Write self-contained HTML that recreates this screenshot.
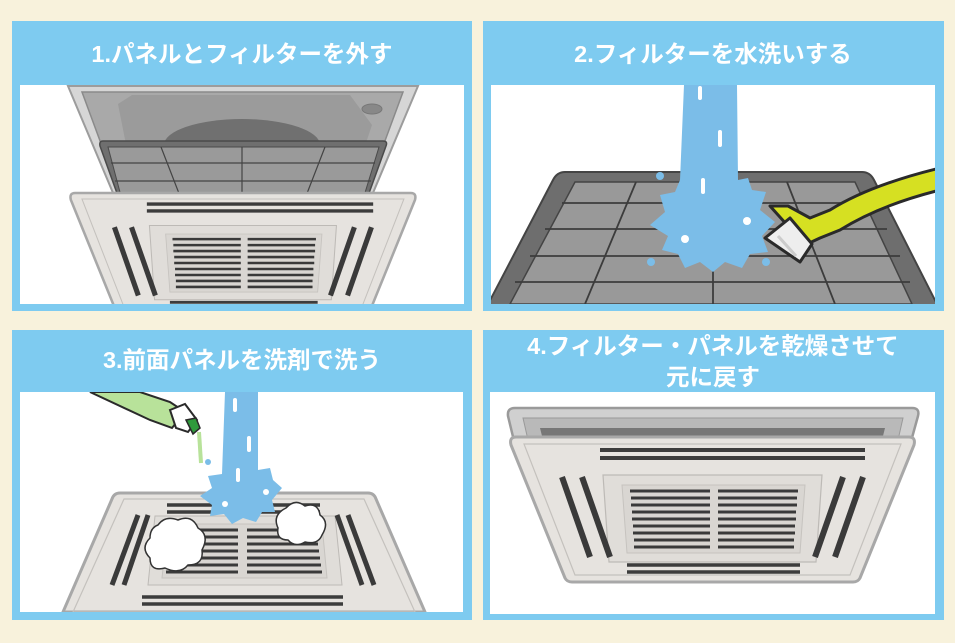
<!DOCTYPE html>
<html><head><meta charset="utf-8"><style>
html,body{margin:0;padding:0;background:#f8f2dc;}
svg{display:block}
text{font-family:"Liberation Sans","Noto Sans CJK JP",sans-serif;font-weight:bold;fill:#fff;text-anchor:middle}
</style></head><body>
<svg width="955" height="643" viewBox="0 0 955 643" xmlns="http://www.w3.org/2000/svg">
<defs>
<clipPath id="c1"><rect x="20" y="85" width="444" height="219"/></clipPath>
<clipPath id="c2"><rect x="491" y="85" width="444" height="219"/></clipPath>
<clipPath id="c3"><rect x="20" y="392" width="443" height="220"/></clipPath>
<clipPath id="c4"><rect x="490" y="392" width="445" height="222"/></clipPath>
<g id="front">
  <path d="M6,0 H399 Q406,0 404,8 L350,141 Q348,145 343,145 H62 Q57,145 55,141 L1,8 Q-1,0 6,0Z" fill="#e6e3df" stroke="#a8a8a8" stroke-width="3"/>
  <path d="M14,7 H391 L340,138 H65Z" fill="none" stroke="#c4c1bd" stroke-width="1.2"/>
  <line x1="90" y1="13" x2="355" y2="13" stroke="#3c3c3c" stroke-width="4"/>
  <line x1="90" y1="21" x2="355" y2="21" stroke="#3c3c3c" stroke-width="4"/>
  <path d="M93,38 H312 L306,125 H99Z" fill="#e0ddd9" stroke="#bdbab6" stroke-width="1.2"/>
  <path d="M112,48 H295 L290,116 H117Z" fill="#d9d6d2" stroke="#c6c3bf"/>
  <g stroke="#3a3a3a" stroke-width="3">
   <line x1="120" y1="54" x2="200" y2="54"/><line x1="208" y1="54" x2="288" y2="54"/>
   <line x1="121" y1="61" x2="200" y2="61"/><line x1="208" y1="61" x2="287" y2="61"/>
   <line x1="121" y1="68" x2="200" y2="68"/><line x1="208" y1="68" x2="287" y2="68"/>
   <line x1="122" y1="75" x2="200" y2="75"/><line x1="208" y1="75" x2="286" y2="75"/>
   <line x1="122" y1="82" x2="200" y2="82"/><line x1="208" y1="82" x2="286" y2="82"/>
   <line x1="123" y1="89" x2="200" y2="89"/><line x1="208" y1="89" x2="285" y2="89"/>
   <line x1="123" y1="96" x2="200" y2="96"/><line x1="208" y1="96" x2="285" y2="96"/>
   <line x1="124" y1="103" x2="200" y2="103"/><line x1="208" y1="103" x2="284" y2="103"/>
   <line x1="124" y1="110" x2="200" y2="110"/><line x1="208" y1="110" x2="284" y2="110"/>
  </g>
  <g stroke="#3a3a3a" stroke-width="6">
   <line x1="52" y1="40" x2="80" y2="120"/><line x1="72" y1="40" x2="100" y2="120"/>
   <line x1="353" y1="40" x2="325" y2="120"/><line x1="333" y1="40" x2="305" y2="120"/>
  </g>
  <line x1="117" y1="128" x2="290" y2="128" stroke="#3c3c3c" stroke-width="3.5"/>
  <line x1="117" y1="135" x2="290" y2="135" stroke="#3c3c3c" stroke-width="3.5"/>
</g>
</defs>

<rect x="12" y="21" width="460" height="290" fill="#7ecbf0"/>
<rect x="483" y="21" width="461" height="290" fill="#7ecbf0"/>
<rect x="12" y="330" width="460" height="290" fill="#7ecbf0"/>
<rect x="483" y="330" width="461" height="290" fill="#7ecbf0"/>
<rect x="20" y="85" width="444" height="219" fill="#fff"/>
<rect x="491" y="85" width="444" height="219" fill="#fff"/>
<rect x="20" y="392" width="443" height="220" fill="#fff"/>
<rect x="490" y="392" width="445" height="222" fill="#fff"/>

<text x="242" y="62" font-size="23.5">1.パネルとフィルターを外す</text>
<text x="713" y="62" font-size="23.5">2.フィルターを水洗いする</text>
<text x="242" y="368" font-size="23.5">3.前面パネルを洗剤で洗う</text>
<text x="713" y="354" font-size="23.5">4.フィルター・パネルを乾燥させて</text>
<text x="713" y="385" font-size="23.5">元に戻す</text>

<g clip-path="url(#c1)">
  <path d="M68,86 H418 L370,200 H116Z" fill="#d6d6d6" stroke="#9c9c9c" stroke-width="2"/>
  <path d="M82,92 H403 L365,195 H120Z" fill="#a9a9a9" stroke="#8a8a8a" stroke-width="1.5"/>
  <path d="M118,104 L132,95 H350 L372,125 L350,190 H135Z" fill="#9b9b9b"/>
  <ellipse cx="242" cy="145" rx="78" ry="26" fill="#707070"/>
  <ellipse cx="372" cy="109" rx="10" ry="5" fill="#888" stroke="#777"/>
  <path d="M103,141 H383 Q388,141 386,146 L368,196 H118 L100,146 Q99,141 103,141Z" fill="#6f6f6f" stroke="#4a4a4a" stroke-width="1.5"/>
  <path d="M108,147 H379 L364,196 H121Z" fill="#9a9a9a" stroke="#4a4a4a"/>
  <g stroke="#444" stroke-width="1.2">
   <line x1="111" y1="163" x2="375" y2="163"/><line x1="115" y1="181" x2="371" y2="181"/>
   <line x1="161" y1="147" x2="180" y2="196"/><line x1="242" y1="147" x2="242" y2="196"/><line x1="325" y1="147" x2="306" y2="196"/>
  </g>
  <use href="#front" transform="translate(70,193) scale(0.854)"/>
</g>

<g clip-path="url(#c2)">
  <path d="M565,172 H862 Q870,172 874,180 L940,310 H485 L553,180 Q557,172 565,172Z" fill="#6e6e6e" stroke="#444" stroke-width="2"/>
  <path d="M575,182 H855 L912,304 H510Z" fill="#999" stroke="#444" stroke-width="1.5"/>
  <g stroke="#3c3c3c" stroke-width="1.8">
   <line x1="562" y1="203" x2="873" y2="203"/><line x1="545" y1="229" x2="887" y2="229"/>
   <line x1="530" y1="256" x2="900" y2="256"/><line x1="515" y1="282" x2="910" y2="282"/>
   <line x1="636" y1="182" x2="585" y2="304"/><line x1="713" y1="182" x2="713" y2="304"/><line x1="787" y1="182" x2="835" y2="304"/>
  </g>
  <path d="M684,85 H737 L738,180 L748,178 L752,190 L766,192 L760,210 L775,222 L762,236 L768,252 L750,254 L742,268 L725,262 L713,272 L700,262 L685,268 L678,254 L662,250 L668,236 L650,225 L665,212 L660,195 L675,192 L680,180Z" fill="#7bbde8"/>
  <g fill="#7bbde8"><circle cx="660" cy="176" r="4"/><circle cx="651" cy="262" r="4"/><circle cx="766" cy="262" r="4"/></g>
  <g fill="#fff"><rect x="698" y="86" width="4" height="14" rx="2"/><rect x="718" y="130" width="4" height="17" rx="2"/><rect x="701" y="178" width="4" height="16" rx="2"/><circle cx="747" cy="221" r="4"/><circle cx="685" cy="239" r="4"/></g>
  <path d="M770,206 L788,206 L810,218 L830,210 Q870,185 940,168 L940,190 Q880,205 840,230 L820,238 L805,245Z" fill="#d6e022" stroke="#2a2a2a" stroke-width="3" stroke-linejoin="round"/>
  <path d="M765,238 L790,218 L812,244 L800,262Z" fill="#eee" stroke="#2a2a2a" stroke-width="3" stroke-linejoin="round"/>
  <line x1="778" y1="236" x2="796" y2="256" stroke="#ccc" stroke-width="3"/>
</g>

<g clip-path="url(#c3)">
  <path d="M120,493 H368 Q374,493 376,499 L425,612 H63 L112,499 Q114,493 120,493Z" fill="#e6e3df" stroke="#a8a8a8" stroke-width="3"/>
  <path d="M124,499 H364 L415,612 H73Z" fill="none" stroke="#c4c1bd" stroke-width="1.2"/>
  <g stroke="#3c3c3c" stroke-width="3.5">
   <line x1="167" y1="505" x2="320" y2="505"/><line x1="167" y1="512" x2="320" y2="512"/>
   <line x1="142" y1="597" x2="343" y2="597"/><line x1="142" y1="604" x2="343" y2="604"/>
  </g>
  <path d="M155,516 H335 L342,585 H148Z" fill="#e0ddd9" stroke="#bdbab6"/>
  <path d="M168,524 H322 L327,578 H162Z" fill="#d9d6d2" stroke="#c6c3bf"/>
  <g stroke="#3a3a3a" stroke-width="3">
   <line x1="172" y1="530" x2="238" y2="530"/><line x1="247" y1="530" x2="316" y2="530"/>
   <line x1="171" y1="537" x2="238" y2="537"/><line x1="247" y1="537" x2="317" y2="537"/>
   <line x1="170" y1="544" x2="238" y2="544"/><line x1="247" y1="544" x2="318" y2="544"/>
   <line x1="169" y1="551" x2="238" y2="551"/><line x1="247" y1="551" x2="319" y2="551"/>
   <line x1="168" y1="558" x2="238" y2="558"/><line x1="247" y1="558" x2="320" y2="558"/>
   <line x1="167" y1="565" x2="238" y2="565"/><line x1="247" y1="565" x2="321" y2="565"/>
   <line x1="166" y1="572" x2="238" y2="572"/><line x1="247" y1="572" x2="322" y2="572"/>
  </g>
  <g stroke="#3a3a3a" stroke-width="5">
   <line x1="138" y1="515" x2="112" y2="585"/><line x1="148" y1="515" x2="124" y2="585"/>
   <line x1="337" y1="515" x2="362" y2="585"/><line x1="348" y1="515" x2="374" y2="585"/>
  </g>
  <path d="M90,392 L140,392 L170,402 L185,412 L172,428 L150,420 Z" fill="#b8e29a" stroke="#2a2a2a" stroke-width="2"/>
  <path d="M170,410 L185,404 L197,420 L188,432 L176,428Z" fill="#fff" stroke="#2a2a2a" stroke-width="2"/>
  <path d="M186,420 L196,418 L200,428 L193,434Z" fill="#2f9a3c" stroke="#2a2a2a" stroke-width="1.5"/>
  <line x1="199" y1="432" x2="201" y2="463" stroke="#b8e29a" stroke-width="4"/>
  <path d="M225,392 H258 L258,470 L270,468 L273,480 L282,488 L272,500 L275,512 L262,512 L256,522 L243,518 L232,524 L224,514 L210,516 L212,505 L200,496 L212,488 L208,476 L222,474Z" fill="#7bbde8"/>
  <circle cx="208" cy="462" r="3" fill="#7bbde8"/>
  <g fill="#fff"><rect x="233" y="398" width="4" height="14" rx="2"/><rect x="247" y="436" width="4" height="16" rx="2"/><rect x="236" y="468" width="4" height="14" rx="2"/><circle cx="225" cy="504" r="3"/><circle cx="266" cy="492" r="3"/></g>
  <path d="M158,525 Q165,515 178,520 Q192,514 198,528 Q210,535 202,550 Q204,565 188,565 Q180,575 165,568 Q150,572 150,558 Q140,548 150,538 Q150,528 158,525Z" fill="#fff" stroke="#333" stroke-width="1.5"/>
  <path d="M286,508 Q295,498 305,506 Q318,502 320,515 Q330,522 322,535 Q318,545 305,542 Q295,548 288,540 Q276,540 278,528 Q272,515 286,508Z" fill="#fff" stroke="#333" stroke-width="1.5"/>
</g>

<g clip-path="url(#c4)">
  <path d="M515,408 H912 Q920,408 918,416 L910,445 H515 L508,416 Q507,408 515,408Z" fill="#d0d0d0" stroke="#9a9a9a" stroke-width="2.5"/>
  <path d="M523,418 H903 L898,440 H528Z" fill="#b9b9b9" stroke="#999"/>
  <path d="M540,428 H885 L882,440 H543Z" fill="#777"/>
  <use href="#front" transform="translate(510,437)"/>
</g>
</svg>
</body></html>
